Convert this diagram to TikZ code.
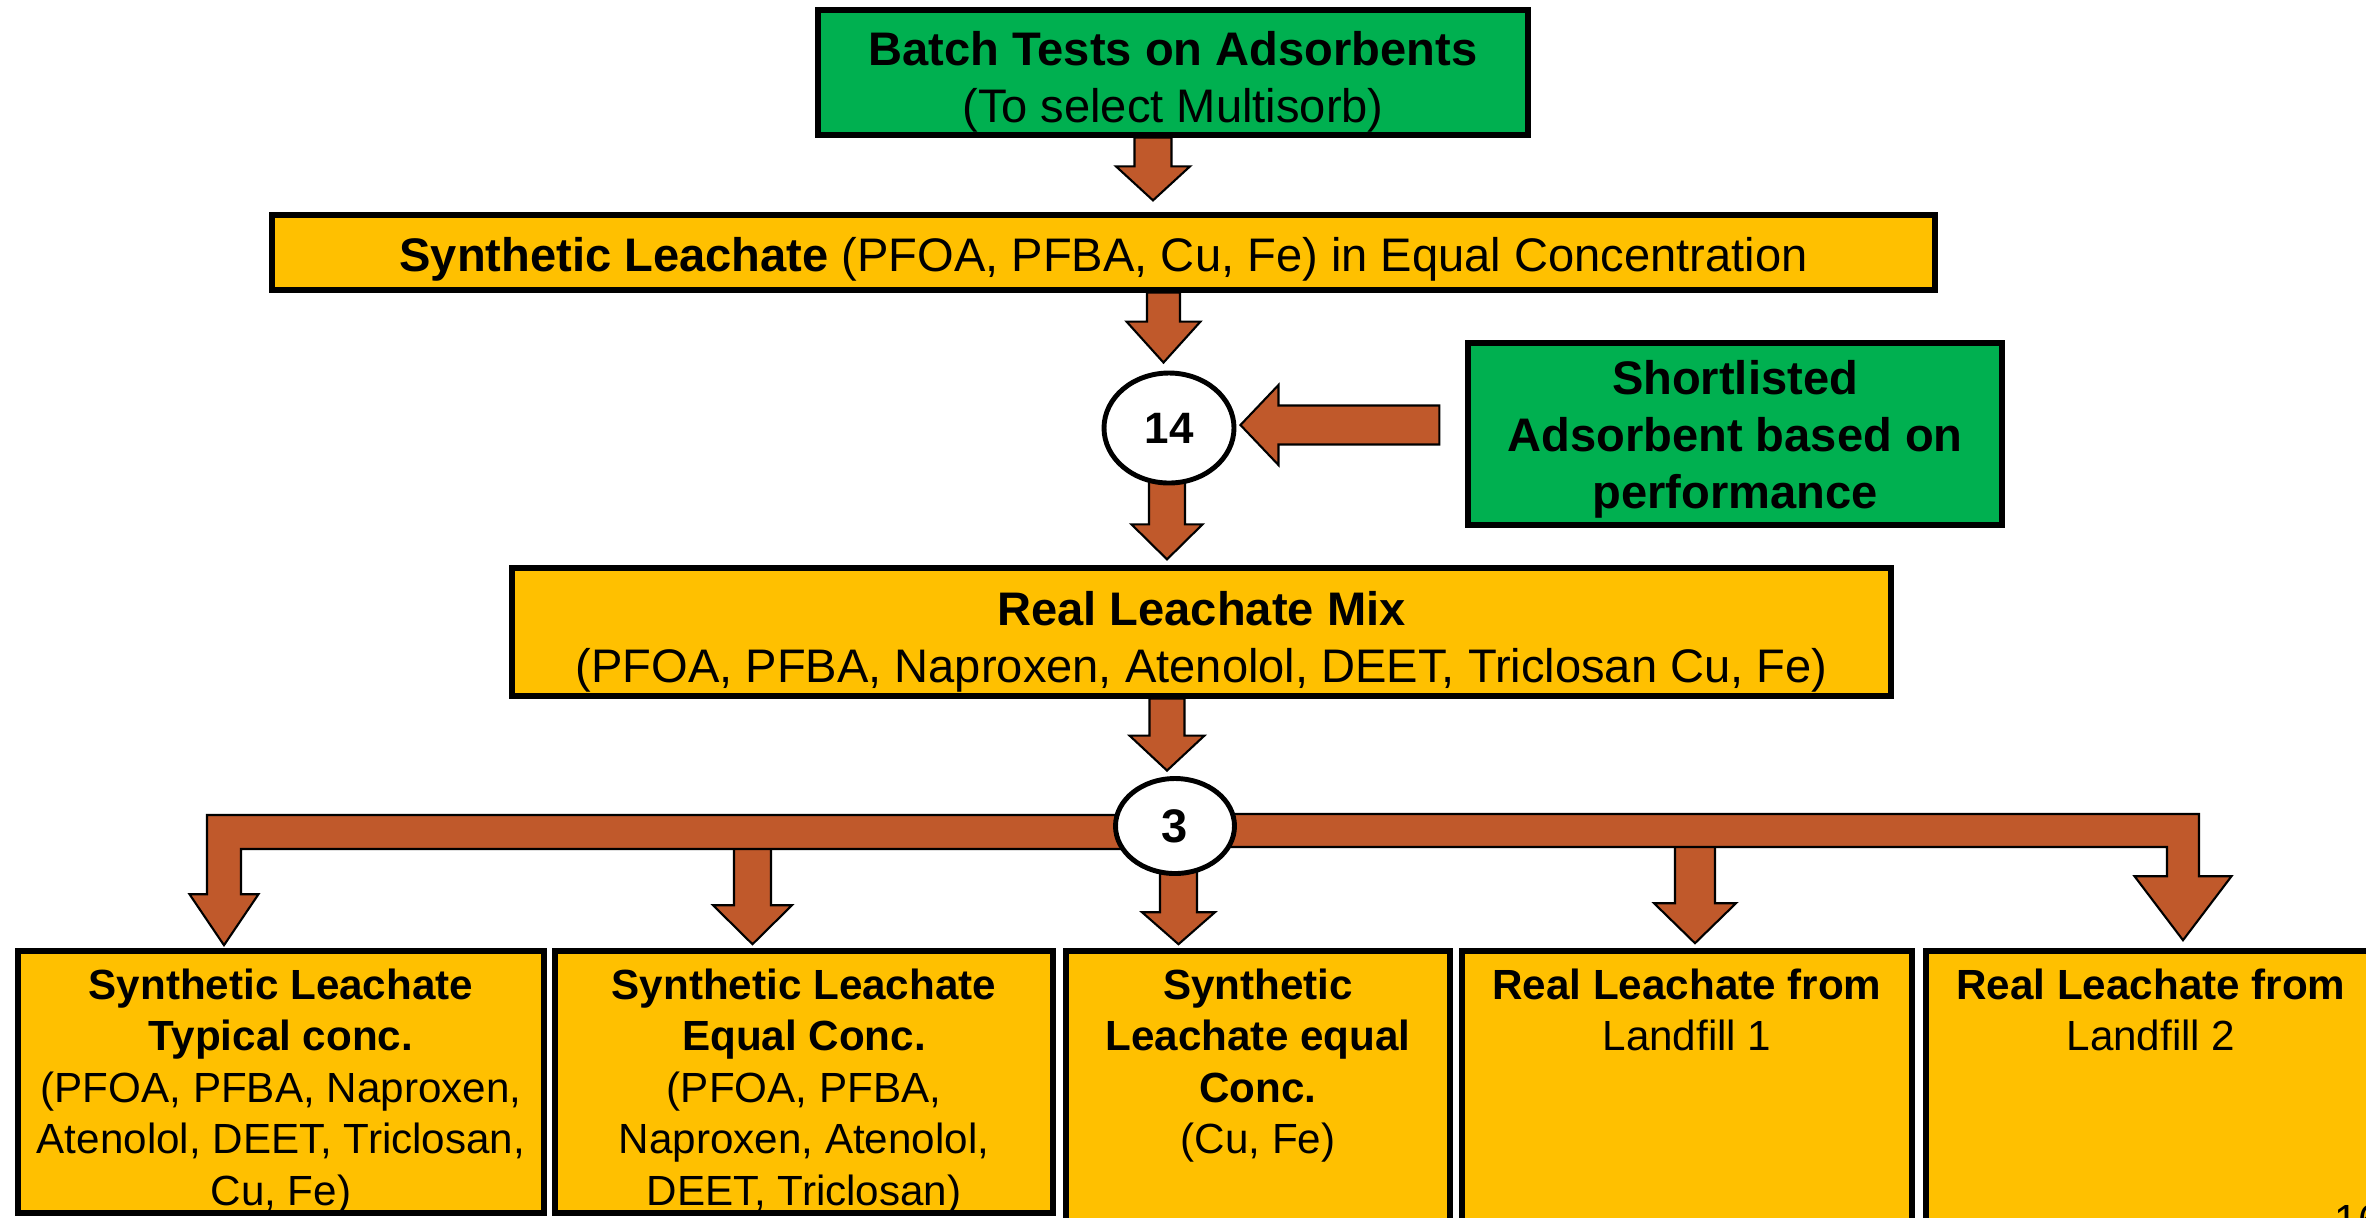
\documentclass[tikz,border=0pt]{standalone}
\usepackage{fontspec}
\setmainfont{Liberation Sans}
\usetikzlibrary{calc,shapes.geometric}
\pgfdeclarelayer{bg}
\pgfsetlayers{bg,main}
\definecolor{boxgreen}{HTML}{00B050}
\definecolor{boxyellow}{HTML}{FFC000}
\definecolor{arrowbrown}{HTML}{C0592B}
\tikzset{
  topbox/.style={draw=black,line width=1.5pt,inner sep=0pt,align=center,font=\fontsize{13.4}{16.2}\selectfont},
  greenbox/.style={topbox,fill=boxgreen},
  yellowbox/.style={topbox,fill=boxyellow},
  lowbox/.style={draw=black,line width=1.6pt,fill=boxyellow,inner sep=0pt,minimum height=2.62cm},
  lowtext/.style={inner sep=0pt,align=center,anchor=north,font=\fontsize{12}{14.65}\selectfont},
  countnode/.style={ellipse,draw=black,line width=1.4pt,fill=white,inner sep=0pt},
  fatarrow/.style={fill=arrowbrown,draw=black,line width=0.6pt,line join=miter}
}
% pushes the text of a box a little down
\newcommand\padtop[1]{\rule{0pt}{#1}}
% block arrow down: from, tip, shaft half width, head half width, head length
\newcommand\downfat[5]{%
  \filldraw[fatarrow] let \p1=(#1), \p2=(#2) in
    (\x2-#3,\y1) -- (\x2-#3,\y2+#5) -- (\x2-#4,\y2+#5) -- (\x2,\y2)
    -- (\x2+#4,\y2+#5) -- (\x2+#3,\y2+#5) -- (\x2+#3,\y1) -- cycle;}
% block arrow to the left
\newcommand\leftfat[5]{%
  \filldraw[fatarrow] let \p1=(#1), \p2=(#2) in
    (\x1,\y2+#3) -- (\x2+#5,\y2+#3) -- (\x2+#5,\y2+#4) -- (\x2,\y2)
    -- (\x2+#5,\y2-#4) -- (\x2+#5,\y2-#3) -- (\x1,\y2-#3) -- cycle;}
\begin{document}
\begin{tikzpicture}[x=1cm,y=-1cm]
\useasboundingbox (0,0) rectangle (23.66,12.17);
\clip (0,0) rectangle (23.66,12.17);
% upper chain
\node[greenbox,minimum width=7.10cm,minimum height=1.25cm] (batch) at (11.73,0.725)
  {\padtop{0.52cm}\textbf{Batch Tests on Adsorbents}\\(To select Multisorb)};
\node[yellowbox,minimum width=16.63cm,minimum height=0.75cm] (synth) at (11.035,2.525)
  {\padtop{0.48cm}\textbf{Synthetic Leachate} (PFOA, PFBA, Cu, Fe) in Equal Concentration};
\node[countnode,minimum width=1.30cm,minimum height=1.10cm,font=\fontsize{12.5}{15}\selectfont\bfseries] (c14) at (11.69,4.28) {14};
\node[greenbox,minimum width=5.34cm,minimum height=1.82cm] (short) at (17.35,4.34)
  {\padtop{0.45cm}\textbf{Shortlisted}\\\textbf{Adsorbent based on}\\\textbf{performance}};
\node[yellowbox,minimum width=13.79cm,minimum height=1.28cm] (real) at (12.015,6.32)
  {\padtop{0.53cm}\textbf{Real Leachate Mix}\\(PFOA, PFBA, Naproxen, Atenolol, DEET, Triclosan Cu, Fe)};
\node[countnode,minimum width=1.19cm,minimum height=0.95cm,font=\fontsize{13.4}{16}\selectfont\bfseries] (c3) at (11.75,8.26) {3};
% bottom row
\node[lowbox,minimum width=5.26cm] (b1) at (2.81,10.82) {};
\node[lowbox,minimum width=4.98cm] (b2) at (8.04,10.82) {};
\node[lowbox,minimum width=3.84cm,minimum height=2.84cm] (b3) at (12.58,10.93) {};
\node[lowbox,minimum width=4.50cm,minimum height=2.84cm] (b4) at (16.87,10.93) {};
\node[lowbox,minimum width=4.50cm,minimum height=2.84cm] (b5) at (21.51,10.93) {};
\node[lowtext] (t1) at ([yshift=-0.2cm]b1.north)
  {\textbf{Synthetic Leachate}\\\textbf{Typical conc.}\\(PFOA, PFBA, Naproxen,\\Atenolol, DEET, Triclosan,\\Cu, Fe)};
\node[lowtext] (t2) at ([yshift=-0.2cm]b2.north)
  {\textbf{Synthetic Leachate}\\\textbf{Equal Conc.}\\(PFOA, PFBA,\\Naproxen, Atenolol,\\DEET, Triclosan)};
\node[lowtext] (t3) at ([yshift=-0.2cm]b3.north)
  {\textbf{Synthetic}\\\textbf{Leachate equal}\\\textbf{Conc.}\\(Cu, Fe)};
\node[lowtext] (t4) at ([yshift=-0.2cm]b4.north) {\textbf{Real Leachate from}\\Landfill 1};
\node[lowtext] (t5) at ([yshift=-0.2cm]b5.north) {\textbf{Real Leachate from}\\Landfill 2};
\node[anchor=north west,inner sep=0pt,font=\fontsize{12}{14}\selectfont] (pgno) at (23.34,12.04) {16};
% arrows behind the boxes
\begin{pgfonlayer}{bg}
\downfat{batch.south}{[xshift=0.495cm,yshift=0.12cm]synth.north}{0.185cm}{0.37cm}{0.34cm}
\downfat{synth.south}{[xshift=-0.055cm,yshift=0.08cm]c14.north}{0.165cm}{0.37cm}{0.41cm}
\leftfat{[xshift=-0.26cm]short.west}{[xshift=0.04cm,yshift=0.03cm]c14.east}{0.195cm}{0.40cm}{0.38cm}
\downfat{c14.center}{[xshift=-0.345cm,yshift=0.06cm]real.north}{0.18cm}{0.355cm}{0.35cm}
\downfat{real.south}{[xshift=-0.08cm,yshift=0.055cm]c3.north}{0.175cm}{0.375cm}{0.35cm}
% branches below the 3
\downfat{[yshift=-0.2cm]c3.center}{[xshift=-0.515cm,yshift=0.04cm]b2.north}{0.185cm}{0.395cm}{0.39cm}
\downfat{c3.center}{[xshift=-0.795cm,yshift=0.04cm]b3.north}{0.185cm}{0.365cm}{0.32cm}
\downfat{[yshift=-0.2cm]c3.center}{[xshift=0.08cm,yshift=0.05cm]b4.north}{0.2cm}{0.41cm}{0.40cm}
\filldraw[fatarrow] let \p1=(c3.center), \p2=([xshift=-0.57cm,yshift=0.03cm]b1.north) in
  (\x1,\y1+0.11cm) -- (\x2-0.17cm,\y1+0.11cm) -- (\x2-0.17cm,\y2+0.51cm) -- (\x2-0.345cm,\y2+0.51cm)
  -- (\x2,\y2) -- (\x2+0.345cm,\y2+0.51cm) -- (\x2+0.17cm,\y2+0.51cm) -- (\x2+0.17cm,\y1-0.23cm)
  -- (\x1,\y1-0.23cm) -- cycle;
\filldraw[fatarrow] let \p1=(c3.center), \p2=([xshift=0.32cm,yshift=0.08cm]b5.north) in
  (\x1,\y1+0.12cm) -- (\x2+0.16cm,\y1+0.12cm) -- (\x2+0.16cm,\y2+0.64cm) -- (\x2+0.485cm,\y2+0.64cm)
  -- (\x2,\y2) -- (\x2-0.485cm,\y2+0.64cm) -- (\x2-0.16cm,\y2+0.64cm) -- (\x2-0.16cm,\y1-0.21cm)
  -- (\x1,\y1-0.21cm) -- cycle;
\end{pgfonlayer}
\end{tikzpicture}
\end{document}
